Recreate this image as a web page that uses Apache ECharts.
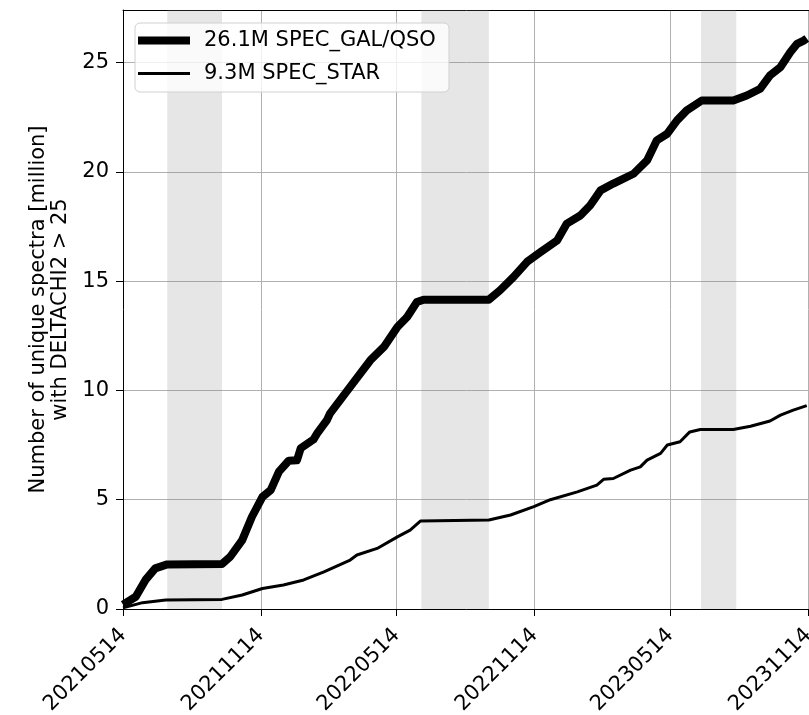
<!DOCTYPE html>
<html>
<head>
<meta charset="utf-8">
<script src="https://cdn.jsdelivr.net/npm/echarts@6/dist/echarts.min.js"></script>
<style>
  html, body { margin: 0; padding: 0; background: #fff; }
  #chart { width: 809px; height: 715px; }
</style>
</head>
<body>
<div id="chart"></div>
<script>
// Cumulative number of unique spectra (million) with DELTACHI2 > 25, by night
const galDates = ['20210514','20210531','20210613','20210626','20210712','20210923','20211004','20211020',
  '20211102','20211116','20211127','20211208','20211221','20220101','20220106','20220123','20220128',
  '20220210','20220214','20220313','20220409','20220427','20220515','20220528','20220610','20220619',
  '20220914','20220929','20221017','20221104','20221122','20221214','20221227','20230114','20230127',
  '20230210','20230227','20230326','20230413','20230426','20230510','20230523','20230605','20230625',
  '20230806','20230824','20230911','20230924','20231008','20231021','20231030','20231108','20231112'];
const galValues = [0.2,0.56,1.33,1.86,2.04,2.06,2.39,3.15,
  4.22,5.13,5.44,6.28,6.78,6.8,7.35,7.75,8.03,
  8.64,8.94,10.16,11.38,11.99,12.9,13.36,14.04,14.15,
  14.15,14.58,15.19,15.88,16.33,16.86,17.63,18.0,18.46,
  19.15,19.46,19.91,20.52,21.44,21.74,22.35,22.81,23.26,
  23.26,23.49,23.8,24.41,24.79,25.47,25.85,26.0,26.1];

const starDates = ['20210514','20210609','20210710','20210923','20211020','20211116','20211214','20220110',
  '20220206','20220313','20220322','20220418','20220515','20220601','20220615','20220914','20221013',
  '20221113','20221205','20230110','20230205','20230214','20230227','20230322','20230404','20230413',
  '20230501','20230510','20230527','20230609','20230623','20230806','20230829','20230924','20231008',
  '20231025','20231112'];
const starValues = [0.05,0.29,0.41,0.44,0.64,0.94,1.1,1.33,
  1.7,2.24,2.47,2.77,3.3,3.61,4.03,4.07,4.3,
  4.68,5.0,5.36,5.67,5.93,5.97,6.35,6.5,6.81,
  7.12,7.5,7.65,8.1,8.21,8.21,8.36,8.6,8.87,
  9.1,9.3];

// Shutdown periods shaded in grey
const shutdowns = [['20210712','20210923'], ['20220616','20220914'], ['20230624','20230810']];

const xTickDates = ['20210514','20211114','20220514','20221114','20230514','20231114'];
const yTickValues = [0, 5, 10, 15, 20, 25];
const seriesNames = ['26.1M SPEC_GAL/QSO', '9.3M SPEC_STAR'];
const yTitle = 'Number of unique spectra [million]\nwith DELTACHI2 > 25';

function toTs(s) {
  return Date.UTC(+s.slice(0, 4), +s.slice(4, 6) - 1, +s.slice(6, 8));
}
function fmt(ts) {
  const d = new Date(ts);
  const p = n => String(n).padStart(2, '0');
  return d.getUTCFullYear() + p(d.getUTCMonth() + 1) + p(d.getUTCDate());
}
const zip = (ds, vs) => ds.map((d, i) => [toTs(d), vs[i]]);

const FONT = 'DejaVu Sans';
const FS = 21;
const xTicks = xTickDates.map(toTs);
const xMin = toTs('20210514');
const xMax = toTs('20231201');

const chart = echarts.init(document.getElementById('chart'), null, { renderer: 'canvas' });
chart.setOption({
  animation: false,
  backgroundColor: '#fff',
  textStyle: { fontFamily: FONT },
  grid: {
    left: 123, top: 10, right: -12, bottom: 106, show: false,
    containLabel: false, outerBoundsMode: 'none'
  },
  xAxis: [
    {
      type: 'value',
      min: xMin, max: xMax,
      axisLine: { show: true, lineStyle: { color: '#000', width: 1 } },
      axisTick: { show: true, length: 7, customValues: xTicks, lineStyle: { color: '#000', width: 1 } },
      axisLabel: {
        customValues: xTicks, rotate: 45, margin: 23,
        fontFamily: FONT, fontSize: FS, color: '#000',
        formatter: v => fmt(v)
      },
      splitLine: { show: true, lineStyle: { color: '#b0b0b0', width: 1 } }
    },
    {
      // top frame line
      type: 'value', position: 'top',
      min: xMin, max: xMax,
      axisLine: { show: true, onZero: false, lineStyle: { color: '#000', width: 1 } },
      axisTick: { show: false }, axisLabel: { show: false }, splitLine: { show: false }
    }
  ],
  yAxis: {
    type: 'value',
    min: 0, max: 27.4,
    name: yTitle,
    nameLocation: 'middle', nameRotate: 90, nameGap: 44,
    nameTextStyle: { fontFamily: FONT, fontSize: FS, color: '#000', lineHeight: 22 },
    axisLine: { show: true, lineStyle: { color: '#000', width: 1 } },
    axisTick: { show: true, length: 7, customValues: yTickValues, lineStyle: { color: '#000', width: 1 } },
    axisLabel: { customValues: yTickValues, margin: 14, fontFamily: FONT, fontSize: FS, color: '#000' },
    splitLine: { show: true, lineStyle: { color: '#b0b0b0', width: 1 } }
  },
  legend: [
    {
      data: [{ name: seriesNames[0], icon: 'rect' }],
      left: 138, top: 30, padding: 0,
      itemWidth: 52, itemHeight: 8,
      textStyle: { fontFamily: FONT, fontSize: FS, color: '#000', padding: [0, 0, 0, 9] },
      selectedMode: false
    },
    {
      data: [{ name: seriesNames[1], icon: 'rect' }],
      left: 138, top: 63, padding: 0,
      itemWidth: 52, itemHeight: 3,
      textStyle: { fontFamily: FONT, fontSize: FS, color: '#000', padding: [0, 0, 0, 9] },
      selectedMode: false
    }
  ],
  graphic: [{
    type: 'rect', z: 3,
    shape: { x: 135, y: 23, width: 314, height: 69, r: 5 },
    style: { fill: 'rgba(255,255,255,0.8)', stroke: '#d0d0d0', lineWidth: 1 },
    silent: true
  }],
  series: [
    {
      name: seriesNames[0], type: 'line', showSymbol: false, symbol: 'none',
      color: '#000',
      data: zip(galDates, galValues),
      lineStyle: { color: '#000', width: 8, join: 'round', cap: 'butt' },
      markArea: {
        silent: true,
        itemStyle: { color: 'rgba(128,128,128,0.2)' },
        data: shutdowns.map(([a, b]) => [{ xAxis: toTs(a) }, { xAxis: toTs(b) }])
      },
      z: 2
    },
    {
      name: seriesNames[1], type: 'line', showSymbol: false, symbol: 'none',
      color: '#000',
      data: zip(starDates, starValues),
      lineStyle: { color: '#000', width: 3, join: 'round', cap: 'butt' },
      z: 2
    }
  ]
});
</script>
</body>
</html>
